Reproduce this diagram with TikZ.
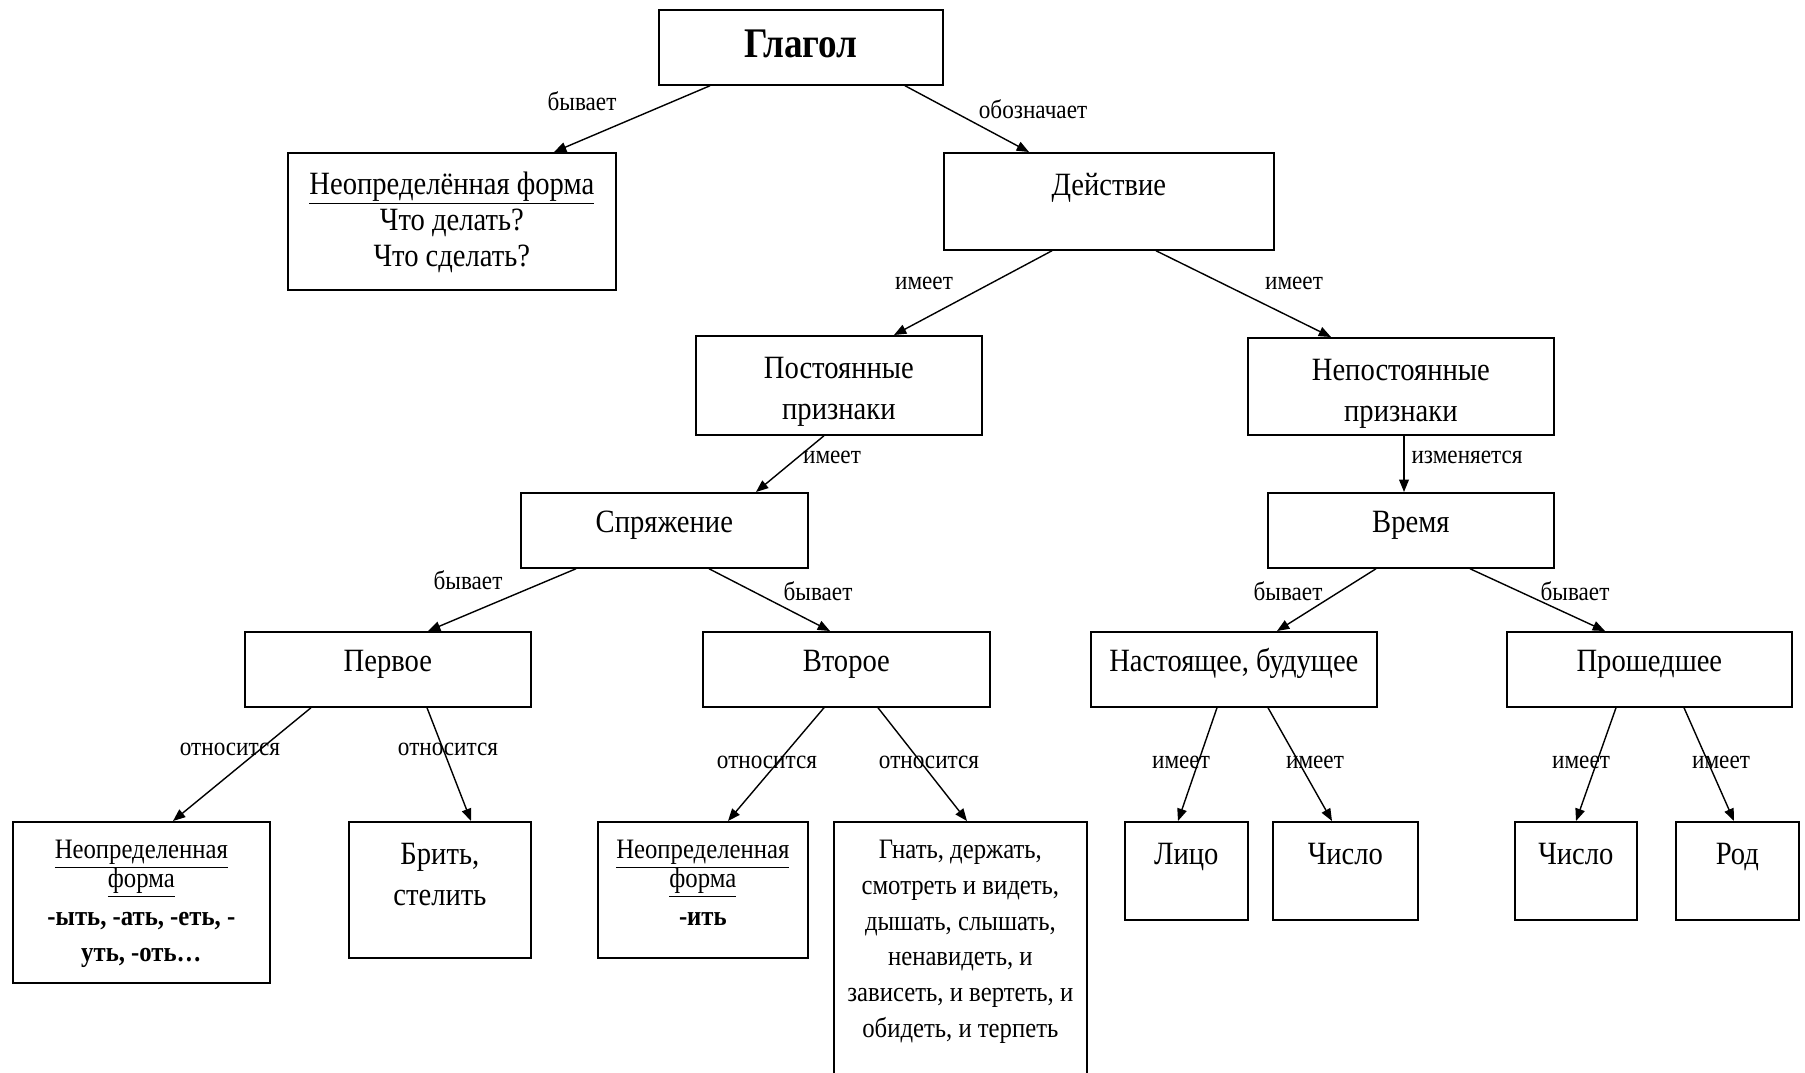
\documentclass[tikz,border=0pt]{standalone}
\usepackage{fontspec}
\setmainfont{Liberation Serif}[FakeStretch=0.88]
\usetikzlibrary{arrows.meta}
\tikzset{
  cell/.style n args={3}{draw, line width=1pt, anchor=north west, inner sep=0pt, align=flush center,
    text width=#1cm, text height=#2cm, text depth=#3cm},
  big/.style={font=\fontsize{18.5}{23.5}\selectfont},
  small/.style={font=\fontsize{16}{20.3}\selectfont},
  lbl/.style={font=\fontsize{15}{18}\selectfont, inner sep=0pt},
  arr/.style={line width=0.8pt, -{Triangle[length=7pt,width=5.5pt]}}
}
\begin{document}
\begin{tikzpicture}[x=0.02cm, y=-0.02cm]
\path[use as bounding box, fill=white] (0,0) rectangle (1805,1072);
\node[cell={5.68}{0.96}{0.54}, font=\fontsize{24}{28}\selectfont\bfseries] (glagol) at (658,9) {Глагол};
\node[cell={6.56}{0.83}{1.91}, font=\fontsize{18.5}{20.5}\selectfont] (neopr) at (287,152) {\underline{Неопределённая форма}\\Что делать?\\Что сделать?};
\node[cell={6.6}{0.85}{1.09}, big] (deystvie) at (943,152) {Действие};
\node[cell={5.72}{0.85}{1.13}, big] (postoyan) at (695,335) {Постоянные\\признаки};
\node[cell={6.12}{0.85}{1.09}, big] (nepostoyan) at (1247,337) {Непостоянные\\признаки};
\node[cell={5.74}{0.8}{0.7}, big] (spryazh) at (520,492) {Спряжение};
\node[cell={5.72}{0.8}{0.7}, big] (vremya) at (1267,492) {Время};
\node[cell={5.72}{0.8}{0.7}, big] (pervoe) at (244,631) {Первое};
\node[cell={5.74}{0.8}{0.7}, big] (vtoroe) at (702,631) {Второе};
\node[cell={5.72}{0.8}{0.7}, big] (nastbud) at (1090,631) {Настоящее, будущее};
\node[cell={5.70}{0.8}{0.7}, big] (proshed) at (1506,631) {Прошедшее};
\node[cell={5.14}{0.74}{2.48}, small] (inf1) at (12,821) {\underline{Неопределенная}\\[-3.9pt]\underline{форма}\\[1.3pt]\textbf{-ыть, -ать, -еть, -}\\\textbf{уть, -оть…}};
\node[cell={3.64}{0.85}{1.87}, big] (brit) at (348,821) {Брить,\\стелить};
\node[cell={4.2}{0.74}{1.98}, small] (inf2) at (597,821) {\underline{Неопределенная}\\[-3.9pt]\underline{форма}\\[1.3pt]\textbf{-ить}};
\node[cell={5.06}{0.74}{4.56}, small] (gnat) at (833,821) {Гнать, держать,\\смотреть и видеть,\\дышать, слышать,\\ненавидеть, и\\зависеть, и вертеть, и\\обидеть, и терпеть};
\node[cell={2.46}{0.85}{1.11}, big] (litso) at (1124,821) {Лицо};
\node[cell={2.9}{0.85}{1.11}, big] (chislo1) at (1272,821) {Число};
\node[cell={2.44}{0.85}{1.11}, big] (chislo2) at (1514,821) {Число};
\node[cell={2.46}{0.85}{1.11}, big] (rod) at (1675,821) {Род};
\draw[arr] (glagol.south -| 710,0) -- (neopr.north -| 554,0);
\draw[arr] (glagol.south -| 905,0) -- (deystvie.north -| 1029,0);
\draw[arr] (deystvie.south -| 1052,0) -- (postoyan.north -| 894,0);
\draw[arr] (deystvie.south -| 1156,0) -- (nepostoyan.north -| 1331,0);
\draw[arr] (postoyan.south -| 824,0) -- (spryazh.north -| 756,0);
\draw[arr] (nepostoyan.south -| 1404,0) -- (vremya.north -| 1404,0);
\draw[arr] (spryazh.south -| 576,0) -- (pervoe.north -| 428,0);
\draw[arr] (spryazh.south -| 709,0) -- (vtoroe.north -| 830,0);
\draw[arr] (vremya.south -| 1376,0) -- (nastbud.north -| 1277,0);
\draw[arr] (vremya.south -| 1470,0) -- (proshed.north -| 1605,0);
\draw[arr] (pervoe.south -| 311,0) -- (inf1.north -| 173,0);
\draw[arr] (pervoe.south -| 427,0) -- (brit.north -| 471,0);
\draw[arr] (vtoroe.south -| 824,0) -- (inf2.north -| 728,0);
\draw[arr] (vtoroe.south -| 878,0) -- (gnat.north -| 967,0);
\draw[arr] (nastbud.south -| 1217,0) -- (litso.north -| 1178,0);
\draw[arr] (nastbud.south -| 1268,0) -- (chislo1.north -| 1332,0);
\draw[arr] (proshed.south -| 1616,0) -- (chislo2.north -| 1576,0);
\draw[arr] (proshed.south -| 1684,0) -- (rod.north -| 1734,0);
\node[lbl] (l-byv1) at (582,101) {бывает};
\node[lbl] (l-oboz) at (1033,109) {обозначает};
\node[lbl] (l-im1) at (924,283) {имеет};
\node[lbl] (l-im2) at (1294,283) {имеет};
\node[lbl] (l-im3) at (832,457) {имеет};
\node[lbl] (l-izm) at (1467,457) {изменяется};
\node[lbl] (l-byv2) at (468,580) {бывает};
\node[lbl] (l-byv3) at (818,591) {бывает};
\node[lbl] (l-byv4) at (1288,591) {бывает};
\node[lbl] (l-byv5) at (1575,591) {бывает};
\node[lbl] (l-otn1) at (230,749) {относится};
\node[lbl] (l-otn2) at (448,749) {относится};
\node[lbl] (l-otn3) at (767,762) {относится};
\node[lbl] (l-otn4) at (929,762) {относится};
\node[lbl] (l-im4) at (1181,762) {имеет};
\node[lbl] (l-im5) at (1315,762) {имеет};
\node[lbl] (l-im6) at (1581,762) {имеет};
\node[lbl] (l-im7) at (1721,762) {имеет};
\end{tikzpicture}
\end{document}
